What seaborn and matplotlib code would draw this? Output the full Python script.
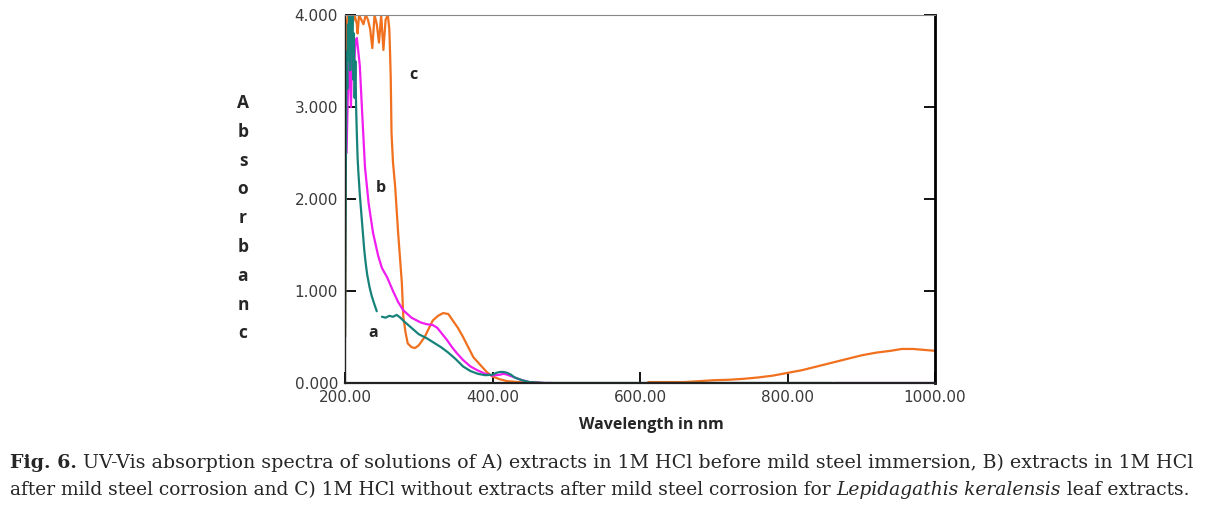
import matplotlib.pyplot as plt
import seaborn as sns
import pandas as pd

sns.set_style('white')
plt.rcParams['font.family'] = ['DejaVu Sans']

# curve a : extracts in 1M HCl before immersion (teal)
wl_a1 = [200, 201, 202, 203, 204, 205, 206, 207, 208, 209, 210, 211, 212, 213, 214,
         215, 216, 217, 218, 220, 222, 224, 226, 228, 230, 233, 236, 240, 243]
abs_a1 = [0.5, 2.2, 3.6, 3.2, 3.9, 3.5, 4.0, 3.4, 3.9, 3.7, 4.0, 3.3, 3.8, 3.1, 3.5,
          3.0, 2.7, 2.45, 2.3, 2.05, 1.85, 1.65, 1.45, 1.3, 1.18, 1.05, 0.95, 0.85, 0.78]
wl_a2 = [250, 255, 260, 265, 270, 275, 280, 290, 300, 310, 320, 330, 340, 350, 360, 370,
         380, 390, 400, 405, 410, 415, 420, 425, 430, 440, 450, 460, 470, 480, 600, 860]
abs_a2 = [0.72, 0.71, 0.73, 0.72, 0.74, 0.71, 0.67, 0.60, 0.53, 0.49, 0.44, 0.39, 0.33, 0.26,
          0.18, 0.13, 0.10, 0.085, 0.09, 0.11, 0.12, 0.12, 0.11, 0.09, 0.06, 0.03, 0.01,
          0.005, 0.0, 0.0, 0.0, 0.0]

# curve b : extracts after corrosion (magenta)
wl_b = [202, 204, 206, 208, 210, 212, 214, 216, 218, 220, 223, 227, 232, 238, 245, 250,
        257, 265, 272, 279, 290, 302, 310, 319, 325, 332, 338, 345, 352, 360, 370, 379,
        390, 400, 410, 415, 420, 430, 440, 450, 460, 470, 480]
abs_b = [2.5, 3.2, 3.5, 3.0, 3.8, 3.4, 3.7, 3.75, 3.6, 3.45, 2.97, 2.35, 1.95, 1.63, 1.38,
         1.25, 1.15, 1.0, 0.88, 0.79, 0.71, 0.66, 0.64, 0.63, 0.60, 0.53, 0.47, 0.39, 0.32,
         0.25, 0.18, 0.14, 0.10, 0.08, 0.09, 0.10, 0.09, 0.06, 0.03, 0.01, 0.005, 0.0, 0.0]
wl_b2 = [864, 1000]
abs_b2 = [0.0, 0.0]

# curve c : 1M HCl without extracts (orange)
wl_c1 = [200, 201, 202, 204, 206, 208, 210, 213, 216, 217, 219, 222, 225, 228, 231, 234,
         237, 240, 243, 246, 249, 252, 255, 258, 260, 261, 262, 263, 265, 268, 272, 277,
         279, 282, 285, 290, 295, 300, 308, 314, 319, 326, 333, 340, 346, 353, 360, 367,
         374, 383, 392, 400, 410, 420, 435, 450, 465]
abs_c1 = [0.5, 2.2, 3.9, 4.0, 3.95, 4.0, 3.9, 4.0, 3.9, 3.8, 4.0, 3.95, 3.9, 4.0, 3.95, 3.85,
          3.64, 4.0, 3.9, 3.7, 4.0, 3.62, 3.95, 4.0, 3.85, 3.6, 3.3, 2.72, 2.4, 2.13, 1.63,
          1.09, 0.72, 0.55, 0.43, 0.39, 0.38, 0.41, 0.5, 0.6, 0.68, 0.73, 0.76, 0.75, 0.68,
          0.6, 0.5, 0.39, 0.28, 0.2, 0.12, 0.07, 0.04, 0.02, 0.01, 0.005, 0.0]
wl_c2 = [611, 640, 660, 680, 700, 720, 740, 760, 780, 800, 820, 840, 860, 880, 900, 920,
         940, 955, 970, 985, 1000]
abs_c2 = [0.01, 0.01, 0.01, 0.02, 0.03, 0.035, 0.045, 0.06, 0.08, 0.11, 0.14, 0.18, 0.22,
          0.26, 0.30, 0.33, 0.35, 0.37, 0.37, 0.36, 0.35]

x_ticks = [200, 400, 600, 800, 1000]
y_ticks = [0, 1, 2, 3, 4]

teal = '#17827a'
magenta = '#f01cf0'
orange = '#f0701e'
purple = '#a030d8'

fig = plt.figure(figsize=(12.09, 5.11), dpi=100)
ax = fig.add_axes([0.2854, 0.2505, 0.488, 0.7201])

segments = [
    (wl_c1, abs_c1, orange), (wl_c2, abs_c2, orange),
    (wl_b, abs_b, magenta), (wl_a1, abs_a1, teal), (wl_a2, abs_a2, teal),
    (wl_b2, abs_b2, purple),
]
for wl, ab, col in segments:
    df = pd.DataFrame({'wl': wl, 'abs': ab})
    sns.lineplot(data=df, x='wl', y='abs', ax=ax, color=col, lw=1.6, sort=False,
                 estimator=None)

ax.set_xlim(200, 1000)
ax.set_ylim(0, 4)
ax.set_xticks(x_ticks)
ax.set_xticklabels([f'{v:.2f}' for v in x_ticks])
ax.set_yticks(y_ticks)
ax.set_yticklabels([f'{v:.3f}' for v in y_ticks])
ax.tick_params(axis='both', direction='in', length=8, width=1.3, color='black',
               labelsize=11, labelcolor='#3a3a3a', pad=5)
ax.tick_params(axis='y', right=True, left=True)
ax.tick_params(axis='x', bottom=True)
ax.set_xlabel('')
ax.set_ylabel('')

ax.spines['top'].set_color('#888888')
ax.spines['top'].set_linewidth(0.8)
ax.spines['left'].set_color('#222222')
ax.spines['left'].set_linewidth(1.0)
ax.spines['right'].set_color('black')
ax.spines['right'].set_linewidth(2.0)
ax.spines['bottom'].set_color('#222222')
ax.spines['bottom'].set_linewidth(1.6)
for s in ax.spines.values():
    s.set_visible(True)

lab_font = dict(family='Open Sans', fontweight='bold', fontsize=11.5)
ax.text(292, 3.35, 'c', ha='center', va='center', **lab_font)
ax.text(249, 2.12, 'b', ha='center', va='center', **lab_font)
ax.text(238, 0.54, 'a', ha='center', va='center', **lab_font)

fig.text(651 / 1209, 1 - 425 / 511, 'Wavelength in nm', ha='center', va='center',
         **lab_font)
for i, ch in enumerate('Absorbanc'):
    fig.text(243 / 1209, 1 - (103 + i * 28.8) / 511, ch, ha='center', va='center',
             family='Open Sans', fontweight='bold', fontsize=12.5)

# caption with mixed styles, chained pieces
line1 = [('Fig. 6.', 'bold', 'normal'),
         (' UV-Vis absorption spectra of solutions of A) extracts in 1M HCl before mild '
          'steel immersion, B) extracts in 1M HCl', 'normal', 'normal')]
line2 = [('after mild steel corrosion and C) 1M HCl without extracts after mild steel '
          'corrosion for ', 'normal', 'normal'),
         ('Lepidagathis keralensis', 'normal', 'italic'),
         (' leaf extracts.', 'normal', 'normal')]
for y_px, size, pieces in [(468, 13.7, line1), (495, 13.4, line2)]:
    prev = None
    for txt, w, st in pieces:
        if prev is None:
            prev = fig.text(10 / 1209, 1 - y_px / 511, txt, ha='left', va='baseline',
                            fontweight=w, fontstyle=st, family='DejaVu Serif',
                            fontsize=size)
        else:
            prev = ax.annotate(txt, xy=(1, 0), xycoords=prev, ha='left', va='bottom',
                               fontweight=w, fontstyle=st, annotation_clip=False,
                               family='DejaVu Serif', fontsize=size)

fig.savefig('out.png', dpi=100)
